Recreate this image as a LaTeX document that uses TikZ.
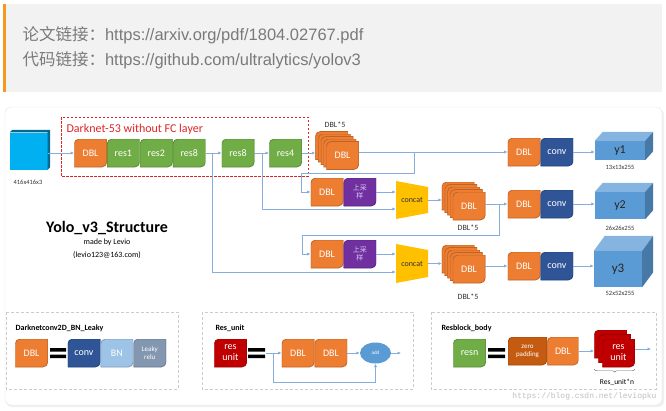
\documentclass[tikz,border=0pt]{standalone}
\usepackage{fontspec}
\setmainfont{Carlito}
\newfontfamily\cjk{Noto Sans CJK SC}
\newfontfamily\urlfont{Liberation Sans}
\newfontfamily\wmfont{Liberation Mono}
\usetikzlibrary{positioning,arrows.meta,shapes.geometric,decorations.pathreplacing}
\definecolor{dblc}{HTML}{ED7D31}
\definecolor{resc}{HTML}{70AD47}
\definecolor{convc}{HTML}{2F5597}
\definecolor{bnc}{HTML}{9DC3E6}
\definecolor{reluc}{HTML}{8497B0}
\definecolor{unitc}{HTML}{C00000}
\definecolor{upc}{HTML}{7030A0}
\definecolor{upt}{HTML}{DCC6F2}
\definecolor{catc}{HTML}{FFC000}
\definecolor{zpc}{HTML}{C55A11}
\definecolor{cubec}{HTML}{5B9BD5}
\definecolor{inc}{HTML}{00B0F0}
\definecolor{lnc}{HTML}{86ADDB}
\definecolor{boxc}{HTML}{F2F2F2}
\definecolor{barc}{HTML}{F39A1E}
\definecolor{darkred}{HTML}{E02424}
\tikzset{
	blk/.style={minimum width=32.5pt,minimum height=28pt,inner sep=0pt,align=center,text=white,
		font=\fontsize{10}{11}\selectfont,
		path picture={\filldraw[fill=#1,draw=#1!80!black,line width=0.8pt]
			(path picture bounding box.south west)
			-- ([yshift=-5pt]path picture bounding box.north west)
			arc[start angle=180,end angle=90,radius=5pt]
			-- (path picture bounding box.north east)
			-- ([yshift=5pt]path picture bounding box.south east)
			arc[start angle=0,end angle=-90,radius=5pt] -- cycle;}},
	catbox/.style={minimum width=32pt,minimum height=#1,inner sep=0pt,text=black!80,
		font=\fontsize{8}{9}\selectfont,
		path picture={\fill[catc] (path picture bounding box.north west)
			-- ([yshift=-6pt]path picture bounding box.north east)
			-- ([yshift=6pt]path picture bounding box.south east)
			-- (path picture bounding box.south west) -- cycle;}},
}
\begin{document}
\begin{tikzpicture}[x=1pt,y=-1pt,cube/.style={fill=cubec,inner sep=0pt,text=black!85,font=\fontsize{12}{12}\selectfont}]
		\tikzstyle{line}=[draw=lnc,line width=0.7pt]
		\tikzstyle{arrow}=[draw=lnc,line width=0.7pt,-{Latex[length=3.5pt,width=3.2pt]}]
		\tikzstyle{sizelbl}=[font=\fontsize{6.5}{7}\selectfont,text=black!80]
		\tikzstyle{lbl}=[font=\fontsize{8}{8}\selectfont,text=black!80]
		\tikzstyle{panel}=[draw=black!20,densely dashed,line width=0.5pt]
		\tikzstyle{head}=[font=\bfseries\fontsize{8}{8}\selectfont,anchor=west]
		\tikzstyle{upbox}=[text=upt,font=\cjk\fontsize{7}{8.5}\selectfont]
		\tikzstyle{linktext}=[anchor=west,text=black!52,font=\urlfont\fontsize{16.5}{17}\selectfont]
		\useasboundingbox (0,0) rectangle (666,410);
		
		\fill[boxc] (3,4) rectangle (662,92);
		\fill[barc] (3,4) rectangle (6,92);
		\node[linktext] (paper) at (19,35) {{\cjk 论文链接：}https://arxiv.org/pdf/1804.02767.pdf};
		\node[linktext] (code) at (19,60) {{\cjk 代码链接：}https://github.com/ultralytics/yolov3};
		\fill[black!6,rounded corners=6pt] (6,109) rectangle (664,407);
		\draw[black!10,fill=white,rounded corners=6pt] (5,107) rectangle (662,405);
		
		\node[fill=inc,minimum width=37.5pt,minimum height=37pt,inner sep=0pt] (in) at (28.75,151) {};
		\fill[inc!60!black] (in.north west) -- ([shift={(2.5pt,2.5pt)}]in.north west) -- ([shift={(2.5pt,2.5pt)}]in.north east)
			-- ([shift={(2.5pt,2.5pt)}]in.south east) -- (in.south east) -- (in.north east) -- cycle;
		\node[sizelbl] (inlbl) at (28,182) {416x416x3};
		\draw[darkred,line width=0.8pt,dash pattern=on 2.5pt off 1.5pt] (61,117) rectangle (308,176);
		\node[anchor=west,text=darkred,font=\fontsize{12}{12}\selectfont] (dn) at (63,129) {Darknet-53 without FC layer};
		
		\node[blk=dblc] (dbl0) at (90.5,153) {DBL};
		\node[blk=resc,right=0pt of dbl0] (r1) {res1};
		\node[blk=resc,right=0pt of r1] (r2) {res2};
		\node[blk=resc,right=0pt of r2] (r8a) {res8};
		\node[blk=resc] (r8b) at (238,153) {res8};
		\node[blk=resc] (r4) at (285.5,153) {res4};
		\path[arrow] (in.east |- dbl0) -- (dbl0);
		\path[arrow] (r8a) -- (r8b);
		\path[arrow] (r8b) -- (r4);
		
		\foreach \k in {4,3,2,1}
			\node[blk=dblc] (s1b\k) at ({342.5-2.7*\k},{155.5-2.5*\k}) {};
		\node[blk=dblc] (s1) at (342.5,155.5) {DBL};
		\node[lbl] (s1l) at (335,125) {DBL*5};
		\path[arrow] (r4) -- (r4 -| s1b4.west);
		
		\node[blk=dblc] (dbl1) at (524,152) {DBL};
		\node[blk=convc,right=0pt of dbl1] (conv1) {conv};
		\node[cube,minimum width=50pt,minimum height=19pt] (y1) at (620,150.5) {y1};
		\coordinate (j1) at (414,152);
		\path[line] (s1.east |- dbl1) -- (j1);
		\path[arrow] (j1) -- (dbl1);
		\path[arrow] (conv1) -- (conv1.east -| y1.west);
		
		\node[blk=dblc] (dbl2) at (327,192) {DBL};
		\node[blk=upc,upbox,right=0pt of dbl2] (up2) {上采\\样};
		\node[catbox=38pt] (cat1) at (412,200) {concat};
		\path[arrow] (j1) -- ++(0,21) -| ([xshift=-9pt]dbl2.west) -- (dbl2);
		\path[arrow] (up2) -- (up2 -| cat1.west);
		\coordinate (j2) at (262,153);
		\path[arrow] (j2) |- ([yshift=-9pt]cat1.west);
		\foreach \k in {4,3,2,1}
			\node[blk=dblc] (s2b\k) at ({469-2.7*\k},{206-2.5*\k}) {};
		\node[blk=dblc] (s2) at (469,206) {DBL};
		\node[lbl] (s2l) at (468,228) {DBL*5};
		\path[arrow] (cat1) -- (cat1 -| s2b4.west);
		
		\node[blk=dblc] (dbl2r) at (524,204) {DBL};
		\node[blk=convc,right=0pt of dbl2r] (conv2) {conv};
		\node[cube,minimum width=50pt,minimum height=27pt] (y2) at (620,205.5) {y2};
		\coordinate (j4) at (499,204);
		\path[line] (s2.east |- dbl2r) -- (j4);
		\path[arrow] (j4) -- (dbl2r);
		\path[arrow] (conv2) -- (conv2.east -| y2.west);
		
		\node[blk=dblc] (dbl3) at (327,254) {DBL};
		\node[blk=upc,upbox,right=0pt of dbl3] (up3) {上采\\样};
		\node[catbox=39pt] (cat2) at (412,263.5) {concat};
		\path[arrow] (j4) -- ++(0,31) -| ([xshift=-8pt]dbl3.west) -- (dbl3);
		\path[arrow] (up3) -- (up3 -| cat2.west);
		\coordinate (j3) at (212,153);
		\path[arrow] (j3) |- ([yshift=-8.5pt]cat2.west);
		\foreach \k in {4,3,2,1}
			\node[blk=dblc] (s3b\k) at ({469-2.7*\k},{269-2.5*\k}) {};
		\node[blk=dblc] (s3) at (469,269) {DBL};
		\node[lbl] (s3l) at (468,297) {DBL*5};
		\path[arrow] (cat2) -- (cat2 -| s3b4.west);
		
		\node[blk=dblc] (dbl3r) at (524,266) {DBL};
		\node[blk=convc,right=0pt of dbl3r] (conv3) {conv};
		\node[cube,minimum width=48pt,minimum height=36pt,font=\fontsize{13}{13}\selectfont] (y3) at (618,269) {y3};
		\path[arrow] (s3.east |- dbl3r) -- (dbl3r);
		\path[arrow] (conv3) -- (conv3.east -| y3.west);
		
		\foreach \c/\dx/\dy in {y1/8/9,y2/8/9,y3/11/15}{
			\fill[cubec!75!white] (\c.north west) -- ([shift={(\dx pt,\dy pt)}]\c.north west)
				-- ([shift={(\dx pt,\dy pt)}]\c.north east) -- (\c.north east) -- cycle;
			\fill[cubec!78!black] (\c.north east) -- ([shift={(\dx pt,\dy pt)}]\c.north east)
				-- ([shift={(\dx pt,\dy pt)}]\c.south east) -- (\c.south east) -- cycle;}
		\node[sizelbl] (y1l) at (620,167) {13x13x255};
		\node[sizelbl] (y2l) at (620,228) {26x26x255};
		\node[sizelbl] (y3l) at (620,293) {52x52x255};
		
		\node[font=\bfseries\fontsize{16}{16}\selectfont] (title) at (107,228) {Yolo\_v3\_Structure};
		\node[font=\fontsize{8}{8}\selectfont] (author) at (107,242) {made by Levio};
		\node[font=\fontsize{8}{8}\selectfont] (mail) at (107,255) {(levio123@163.com)};
		
		\draw[panel] (6,312) rectangle (178,389);
		\draw[panel] (202,312) rectangle (413,389);
		\draw[panel] (431,312) rectangle (656,389);
		\node[head] (h1) at (12,328) {Darknetconv2D\_BN\_Leaky};
		\node[head] (h2) at (212,328) {Res\_unit};
		\node[head] (h3) at (438,328) {Resblock\_body};
		
		\node[blk=dblc] (pdbl) at (31.5,353) {DBL};
		\fill (50,348) rectangle (66,351.5) (50,354.5) rectangle (66,358);
		\node[blk=convc] (pconv) at (84,353) {conv};
		\node[blk=bnc,right=0pt of pconv] (pbn) {BN};
		\node[blk=reluc,right=0pt of pbn,font=\fontsize{7}{8}\selectfont] (prelu) {Leaky\\relu};
		
		\node[blk=unitc] (ru) at (230.5,353) {res\\unit};
		\fill (248,348) rectangle (265,351.5) (248,354.5) rectangle (265,358);
		\coordinate (ru0) at (266,353);
		\coordinate (j5) at (273,353);
		\node[blk=dblc] (ud1) at (298,353) {DBL};
		\node[blk=dblc,right=0pt of ud1] (ud2) {DBL};
		\node[ellipse,fill=cubec,minimum width=31pt,minimum height=21pt,inner sep=0pt,text=white,font=\fontsize{5}{5}\selectfont] (add) at (375.5,353) {add};
		\coordinate (ruout) at (401,353);
		\path[arrow] (ru0) -- (ud1);
		\path[arrow] (j5) -- ++(0,29) -| (add.south);
		\path[arrow] (ud2) -- (add);
		\path[arrow] (add) -- (ruout);
		
		\node[blk=resc] (resn) at (469.5,353) {resn};
		\fill (488,348) rectangle (505,351.5) (488,354.5) rectangle (505,358);
		\node[blk=zpc,minimum width=39pt,font=\fontsize{7}{8}\selectfont] (zp) at (527.5,351) {zero\\padding};
		\node[blk=dblc,right=0pt of zp,minimum width=31pt] (rbd) {DBL};
		\foreach \k in {2,1}
			\node[blk=unitc] (rsb\k) at ({618.5-4*\k},{353-4.5*\k}) {};
		\node[blk=unitc] (rs) at (618.5,353) {res\\unit};
		\coordinate (rsout) at (651,349);
		\path[arrow] (rbd) -- (rbd -| rsb2.west);
		\path[arrow] (rs.east |- rsout) -- (rsout);
		\draw[decorate,decoration={brace,mirror,amplitude=3pt},black!60] ([yshift=-2pt]rsb2.south west |- rs.south) -- ([yshift=-2pt]rs.south east);
		\node[font=\fontsize{7.5}{8}\selectfont] (rsl) at (617,382) {Res\_unit*n};
		\node[anchor=east,text=black!25,font=\wmfont\fontsize{8}{8}\selectfont] (wm) at (660,396) {https://blog.csdn.net/leviopku};
		
		\end{tikzpicture}
\end{document}
